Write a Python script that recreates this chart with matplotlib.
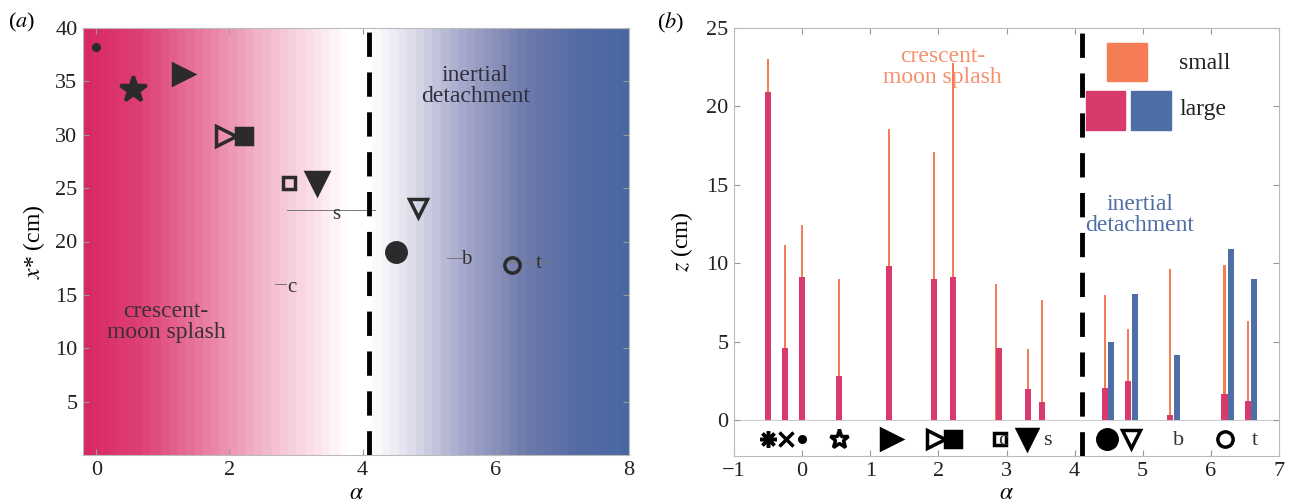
import numpy as np
import matplotlib.pyplot as plt
from matplotlib.colors import LinearSegmentedColormap
from matplotlib.patches import Rectangle

plt.rcParams['font.family'] = ['Liberation Serif', 'DejaVu Serif']
plt.rcParams['mathtext.fontset'] = 'stix'
plt.rcParams['font.size'] = 16

# ---- panel (a): regime map, x* against alpha ----
a_alpha = [0.0, 0.555, 1.30, 1.95, 2.22, 2.89, 3.32, 4.83, 4.50, 6.25]
a_xstar = [38.2, 34.25, 35.65, 29.9, 29.9, 25.45, 25.45, 23.1, 19.05, 17.8]
a_marker = ['o', '*', '>', '>', 's', 's', 'v', 'v', 'o', 'o']
a_filled = [True, True, True, False, True, False, True, False, True, False]
a_size = [4, 19, 15, 14, 12, 9, 16, 13, 14, 11]

# labelled ranges: (label, alpha_lo, alpha_hi, x*)
range_label = ['s', 'c', 'b', 't']
range_lo = [2.86, 2.68, 5.26, 6.12]
range_hi = [4.18, 2.85, 5.50, 6.85]
range_x = [22.95, 16.05, 18.5, 18.1]
label_alpha = [3.6, 2.93, 5.55, 6.65]
label_x = [22.5, 15.7, 18.3, 17.9]

alpha_c = 4.1

# ---- panel (b): drop heights z against alpha ----
alpha_small = [-0.5, -0.25, 0.0, 0.54, 1.27, 1.94, 2.21, 2.85, 3.32, 3.52,
               4.45, 4.78, 5.40, 6.20, 6.54]
z_small = [23.05, 11.15, 12.45, 9.0, 18.55, 17.1, 22.75, 8.65, 4.55, 7.65,
           7.95, 5.8, 9.6, 9.9, 6.3]
alpha_large = [-0.5, -0.25, 0.0, 0.54, 1.27, 1.94, 2.21, 2.895, 3.32, 3.52,
               4.45, 4.78, 5.40, 6.20, 6.54]
z_large = [20.9, 4.6, 9.1, 2.8, 9.8, 9.0, 9.1, 4.6, 1.95, 1.15,
           2.05, 2.5, 0.3, 1.65, 1.2]
alpha_det = [4.54, 4.88, 5.50, 6.29, 6.63]
z_det = [5.0, 8.05, 4.15, 10.9, 9.0]

# symbol key under the bars
key_alpha = [-0.5, -0.24, 0.0, 0.54, 1.3, 1.97, 2.21, 2.9, 3.3, 4.48, 4.83, 6.21]
key_marker = [(8, 2, 0), 'x', 'o', '*', '>', '>', 's', 's', 'v', 'o', 'v', 'o']
key_filled = [True, True, True, False, True, False, True, False, True, True, False, False]
key_size = [12, 10, 4, 14, 15, 13, 11, 9, 15, 14, 13, 11]
key_text = ['c', 's', 'b', 't']
key_text_alpha = [2.95, 3.6, 5.53, 6.65]

crimson = '#d93a6c'
orange = '#f57d56'
blue = '#4e6ea6'

fig = plt.figure(figsize=(12.94, 5.04), dpi=100)
ax1 = fig.add_axes([83 / 1294, 1 - 455 / 504, 546 / 1294, 427 / 504])
ax2 = fig.add_axes([734 / 1294, 1 - 456 / 504, 545 / 1294, 428 / 504])

# background shading crimson -> white -> blue
stops = [(-0.2, (0.85, 0.16, 0.40)), (0.6, (0.87, 0.25, 0.45)),
         (1.5, (0.91, 0.47, 0.61)), (2.5, (0.95, 0.72, 0.80)),
         (3.3, (0.99, 0.89, 0.93)), (3.75, (1, 1, 1)), (4.15, (1, 1, 1)),
         (4.7, (0.88, 0.88, 0.93)), (5.5, (0.66, 0.67, 0.80)),
         (6.5, (0.43, 0.48, 0.67)), (7.3, (0.33, 0.42, 0.64)),
         (8.0, (0.29, 0.41, 0.64))]
lo, hi = -0.2, 8.0
cmap = LinearSegmentedColormap.from_list(
    'regime', [((a - lo) / (hi - lo), c) for a, c in stops], N=64)
ax1.imshow(np.linspace(0, 1, 400)[None, :], cmap=cmap, aspect='auto',
           extent=[lo, hi, 0, 40], origin='lower', zorder=0)

for i in range(len(a_alpha)):
    face = '#2b2b2b' if a_filled[i] else 'none'
    ax1.plot(a_alpha[i], a_xstar[i], marker=a_marker[i], ms=a_size[i],
             mfc=face, mec='#2b2b2b', mew=2.5, ls='none', zorder=3)
for i in range(len(range_label)):
    ax1.plot([range_lo[i], range_hi[i]], [range_x[i], range_x[i]],
             color='#777777', lw=0.7, zorder=2)
    ax1.text(label_alpha[i], label_x[i], range_label[i], ha='center',
             va='center', fontsize=15, color='#333333', zorder=3)
ax1.axvline(alpha_c, color='black', lw=3.5, dashes=(5, 3.2), zorder=4)
ax1.text(1.05, 12.5, 'crescent-\nmoon splash', ha='center', va='center',
         fontsize=17, color='#3a3038', linespacing=1.0)
ax1.text(5.69, 34.55, 'inertial\ndetachment', ha='center', va='center',
         fontsize=17, color='#2e3040', linespacing=1.0)
ax1.set_xlim(lo, hi)
ax1.set_ylim(0, 40)
ax1.set_xticks([0, 2, 4, 6, 8])
ax1.set_yticks([5, 10, 15, 20, 25, 30, 35, 40])
ax1.set_xlabel(r'$\alpha$', fontsize=17)
ax1.xaxis.set_label_coords(0.5, -0.066)
ax1.set_ylabel(r'$x$* (cm)', fontsize=17, labelpad=6)

# bars
ax2.bar(alpha_small, z_small, width=0.03, color=orange, zorder=2)
ax2.bar(alpha_large, z_large, width=0.09, color=crimson, zorder=3)
ax2.bar(alpha_det, z_det, width=0.09, color=blue, zorder=3)
ax2.axvline(alpha_c + 0.01, color='black', lw=3.5, dashes=(5, 3.2), zorder=4)
ax2.axhline(0, color='#cccccc', lw=0.8, zorder=1)

key_z = -1.2
for i in range(len(key_alpha)):
    face = 'black' if key_filled[i] else 'none'
    ax2.plot(key_alpha[i], key_z, marker=key_marker[i], ms=key_size[i],
             mfc=face, mec='black', mew=2.5, ls='none', zorder=5)
for t, a in zip(key_text, key_text_alpha):
    ax2.text(a, key_z - 0.1, t, ha='center', va='center', fontsize=16,
             color='#333333', zorder=6)

ax2.text(2.06, 22.5, 'crescent-\nmoon splash', ha='center', va='center',
         fontsize=17, color=orange, alpha=0.85, linespacing=1.0)
ax2.text(4.96, 13.1, 'inertial\ndetachment', ha='center', va='center',
         fontsize=17, color=blue, linespacing=1.0)

# size key
for (x0, y0), c in zip([(0.685, 0.876), (0.645, 0.762), (0.729, 0.762)],
                       [orange, crimson, blue]):
    ax2.add_patch(Rectangle((x0, y0), 0.072, 0.09, transform=ax2.transAxes,
                            color=c, zorder=6))
ax2.text(0.817, 0.918, 'small', transform=ax2.transAxes, va='center',
         fontsize=17, color='#222222')
ax2.text(0.817, 0.810, 'large', transform=ax2.transAxes, va='center',
         fontsize=17, color='#222222')

ax2.set_xlim(-1, 7)
ax2.set_ylim(-2.3, 25)
ax2.set_xticks(range(-1, 8))
ax2.set_xticklabels(['\u22121'] + [str(v) for v in range(0, 8)])
ax2.set_yticks([0, 5, 10, 15, 20, 25])
ax2.set_xlabel(r'$\alpha$', fontsize=17)
ax2.xaxis.set_label_coords(0.5, -0.064)
ax2.set_ylabel(r'$z$ (cm)', fontsize=17, labelpad=8)

for ax in (ax1, ax2):
    for s in ax.spines.values():
        s.set_color('#bbbbbb')
        s.set_linewidth(0.8)
    ax.tick_params(direction='in', top=True, right=True, length=4,
                   color='#999999', labelcolor='#222222', labelsize=16, pad=4)

fig.text(0.006, 0.955, '(' + r'$a$' + ')', fontsize=16, va='center')
fig.text(0.508, 0.955, '(' + r'$b$' + ')', fontsize=16, va='center')

fig.savefig('out.png', dpi=100)
